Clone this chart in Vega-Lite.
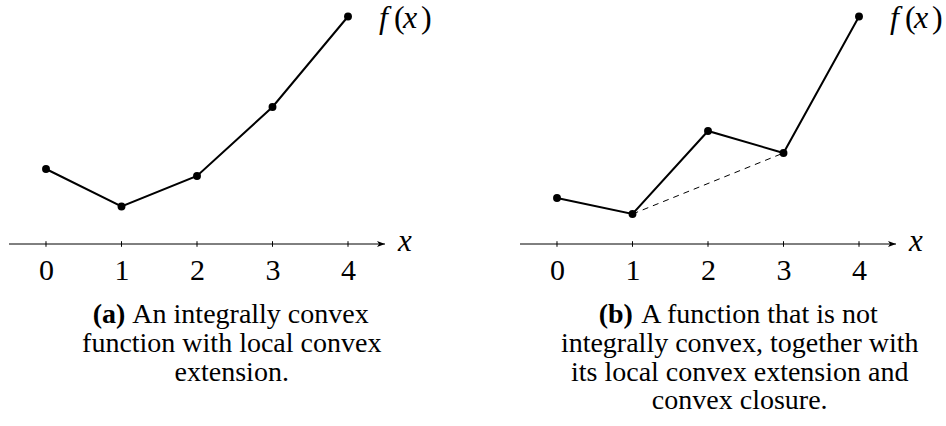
{
  "$schema": "https://vega.github.io/schema/vega-lite/v6.json",
  "padding": {"left": 8, "top": 0, "right": 0, "bottom": 0},
  "bounds": "flush",
  "spacing": 135,
  "background": "white",
  "config": {
    "view": {"stroke": null},
    "font": "Liberation Serif",
    "text": {"font": "Liberation Serif", "color": "black"},
    "axisX": {
      "domain": false, "ticks": false, "tickSize": 0, "grid": false, "format": "d",
      "labelFont": "Liberation Serif", "labelFontSize": 30, "labelColor": "black",
      "labelBaseline": "alphabetic", "labelPadding": 35, "labelFlush": false, "labelOverlap": false
    }
  },
  "datasets": {
    "convex": [
      {"x": 0, "f": 7.5}, {"x": 1, "f": 3.75}, {"x": 2, "f": 6.8}, {"x": 3, "f": 13.7}, {"x": 4, "f": 22.75}
    ],
    "nonconvex": [
      {"x": 0, "f": 4.6}, {"x": 1, "f": 3.0}, {"x": 2, "f": 11.3}, {"x": 3, "f": 9.1}, {"x": 4, "f": 22.75}
    ],
    "fxLabel": [
      {"piece": "f", "italic": true, "shift": 31},
      {"piece": "(", "italic": false, "shift": 46},
      {"piece": "x", "italic": true, "shift": 55},
      {"piece": ")", "italic": false, "shift": 73}
    ]
  },
  "hconcat": [
    {
      "width": 376, "height": 244,
      "data": {"name": "convex"},
      "layer": [
        {
          "data": {"values": [{}]},
          "mark": {"type": "rule", "stroke": "black", "strokeWidth": 1},
          "encoding": {"y": {"datum": 0, "type": "quantitative", "scale": {"domain": [0, 24.4], "nice": false, "zero": false}, "axis": null}}
        },
        {
          "mark": {"type": "rule", "stroke": "black", "strokeWidth": 1},
          "encoding": {
            "x": {"field": "x", "type": "quantitative", "scale": {"domain": [-0.49, 4.49], "nice": false, "zero": false}, "axis": {"title": null, "values": [0, 1, 2, 3, 4], "format": "d"}},
            "y": {"datum": -0.28, "type": "quantitative", "axis": null},
            "y2": {"datum": 0.28}
          }
        },
        {
          "data": {"values": [{}]},
          "mark": {"type": "point", "shape": "M0,0 L-2.4,-0.9 L-1.8,0 L-2.4,0.9 Z", "filled": true, "color": "black", "size": 44, "opacity": 1},
          "encoding": {
            "x": {"datum": 4.49, "type": "quantitative"},
            "y": {"datum": 0, "type": "quantitative"}
          }
        },
        {
          "mark": {"type": "line", "stroke": "black", "strokeWidth": 2},
          "encoding": {
            "x": {"field": "x", "type": "quantitative"},
            "y": {"field": "f", "type": "quantitative"}
          }
        },
        {
          "mark": {"type": "circle", "color": "black", "size": 62, "opacity": 1},
          "encoding": {
            "x": {"field": "x", "type": "quantitative"},
            "y": {"field": "f", "type": "quantitative"}
          }
        },
        {
          "data": {"values": [{}]},
          "mark": {"type": "text", "text": "x", "font": "Liberation Serif", "fontStyle": "italic", "fontSize": 31, "align": "left", "baseline": "alphabetic", "dx": 13, "dy": 7},
          "encoding": {
            "x": {"datum": 4.49, "type": "quantitative"},
            "y": {"datum": 0, "type": "quantitative"}
          }
        },
        {
          "data": {"name": "fxLabel"},
          "transform": [{"filter": "datum.italic"}],
          "mark": {"type": "text", "font": "Liberation Serif", "fontStyle": "italic", "fontSize": 32, "align": "left", "baseline": "alphabetic", "dy": 11},
          "encoding": {
            "x": {"datum": 4, "type": "quantitative"},
            "y": {"datum": 22.75, "type": "quantitative"},
            "text": {"field": "piece"},
            "xOffset": {"field": "shift", "type": "quantitative", "scale": null}
          }
        },
        {
          "data": {"name": "fxLabel"},
          "transform": [{"filter": "!datum.italic"}],
          "mark": {"type": "text", "font": "Liberation Serif", "fontSize": 32, "align": "left", "baseline": "alphabetic", "dy": 11},
          "encoding": {
            "x": {"datum": 4, "type": "quantitative"},
            "y": {"datum": 22.75, "type": "quantitative"},
            "text": {"field": "piece"},
            "xOffset": {"field": "shift", "type": "quantitative", "scale": null}
          }
        },
        {
          "data": {"values": [{}]},
          "mark": {"type": "text", "text": "(a)", "fontWeight": "bold", "fontSize": 28, "align": "left", "baseline": "alphabetic", "dx": -139, "dy": 79},
          "encoding": {
            "x": {"datum": 2.46, "type": "quantitative"},
            "y": {"datum": 0, "type": "quantitative"}
          }
        },
        {
          "data": {"values": [{}]},
          "mark": {"type": "text", "text": "An integrally convex", "fontSize": 28, "align": "right", "baseline": "alphabetic", "dx": 137, "dy": 79},
          "encoding": {
            "x": {"datum": 2.46, "type": "quantitative"},
            "y": {"datum": 0, "type": "quantitative"}
          }
        },
        {
          "data": {"values": [{}]},
          "mark": {"type": "text", "text": ["function with local convex", "extension."], "lineHeight": 28.7, "fontSize": 28, "align": "center", "baseline": "alphabetic", "dy": 108},
          "encoding": {
            "x": {"datum": 2.46, "type": "quantitative"},
            "y": {"datum": 0, "type": "quantitative"}
          }
        }
      ]
    },
    {
      "width": 376, "height": 244,
      "data": {"name": "nonconvex"},
      "layer": [
        {
          "data": {"values": [{}]},
          "mark": {"type": "rule", "stroke": "black", "strokeWidth": 1},
          "encoding": {"y": {"datum": 0, "type": "quantitative", "scale": {"domain": [0, 24.4], "nice": false, "zero": false}, "axis": null}}
        },
        {
          "mark": {"type": "rule", "stroke": "black", "strokeWidth": 1},
          "encoding": {
            "x": {"field": "x", "type": "quantitative", "scale": {"domain": [-0.49, 4.49], "nice": false, "zero": false}, "axis": {"title": null, "values": [0, 1, 2, 3, 4], "format": "d"}},
            "y": {"datum": -0.28, "type": "quantitative", "axis": null},
            "y2": {"datum": 0.28}
          }
        },
        {
          "data": {"values": [{}]},
          "mark": {"type": "point", "shape": "M0,0 L-2.4,-0.9 L-1.8,0 L-2.4,0.9 Z", "filled": true, "color": "black", "size": 44, "opacity": 1},
          "encoding": {
            "x": {"datum": 4.49, "type": "quantitative"},
            "y": {"datum": 0, "type": "quantitative"}
          }
        },
        {
          "transform": [{"filter": "datum.x == 1 || datum.x == 3"}],
          "mark": {"type": "line", "stroke": "black", "strokeWidth": 1, "strokeDash": [6, 5]},
          "encoding": {
            "x": {"field": "x", "type": "quantitative"},
            "y": {"field": "f", "type": "quantitative"}
          }
        },
        {
          "mark": {"type": "line", "stroke": "black", "strokeWidth": 2},
          "encoding": {
            "x": {"field": "x", "type": "quantitative"},
            "y": {"field": "f", "type": "quantitative"}
          }
        },
        {
          "mark": {"type": "circle", "color": "black", "size": 62, "opacity": 1},
          "encoding": {
            "x": {"field": "x", "type": "quantitative"},
            "y": {"field": "f", "type": "quantitative"}
          }
        },
        {
          "data": {"values": [{}]},
          "mark": {"type": "text", "text": "x", "font": "Liberation Serif", "fontStyle": "italic", "fontSize": 31, "align": "left", "baseline": "alphabetic", "dx": 13, "dy": 7},
          "encoding": {
            "x": {"datum": 4.49, "type": "quantitative"},
            "y": {"datum": 0, "type": "quantitative"}
          }
        },
        {
          "data": {"name": "fxLabel"},
          "transform": [{"filter": "datum.italic"}],
          "mark": {"type": "text", "font": "Liberation Serif", "fontStyle": "italic", "fontSize": 32, "align": "left", "baseline": "alphabetic", "dy": 11},
          "encoding": {
            "x": {"datum": 4, "type": "quantitative"},
            "y": {"datum": 22.75, "type": "quantitative"},
            "text": {"field": "piece"},
            "xOffset": {"field": "shift", "type": "quantitative", "scale": null}
          }
        },
        {
          "data": {"name": "fxLabel"},
          "transform": [{"filter": "!datum.italic"}],
          "mark": {"type": "text", "font": "Liberation Serif", "fontSize": 32, "align": "left", "baseline": "alphabetic", "dy": 11},
          "encoding": {
            "x": {"datum": 4, "type": "quantitative"},
            "y": {"datum": 22.75, "type": "quantitative"},
            "text": {"field": "piece"},
            "xOffset": {"field": "shift", "type": "quantitative", "scale": null}
          }
        },
        {
          "data": {"values": [{}]},
          "mark": {"type": "text", "text": "(b)", "fontWeight": "bold", "fontSize": 28, "align": "left", "baseline": "alphabetic", "dx": -141, "dy": 79},
          "encoding": {
            "x": {"datum": 2.42, "type": "quantitative"},
            "y": {"datum": 0, "type": "quantitative"}
          }
        },
        {
          "data": {"values": [{}]},
          "mark": {"type": "text", "text": "A function that is not", "fontSize": 28, "align": "right", "baseline": "alphabetic", "dx": 138, "dy": 79},
          "encoding": {
            "x": {"datum": 2.42, "type": "quantitative"},
            "y": {"datum": 0, "type": "quantitative"}
          }
        },
        {
          "data": {"values": [{}]},
          "mark": {"type": "text", "text": ["integrally convex, together with", "its local convex extension and", "convex closure."], "lineHeight": 28.7, "fontSize": 28, "align": "center", "baseline": "alphabetic", "dy": 108},
          "encoding": {
            "x": {"datum": 2.42, "type": "quantitative"},
            "y": {"datum": 0, "type": "quantitative"}
          }
        }
      ]
    }
  ]
}
